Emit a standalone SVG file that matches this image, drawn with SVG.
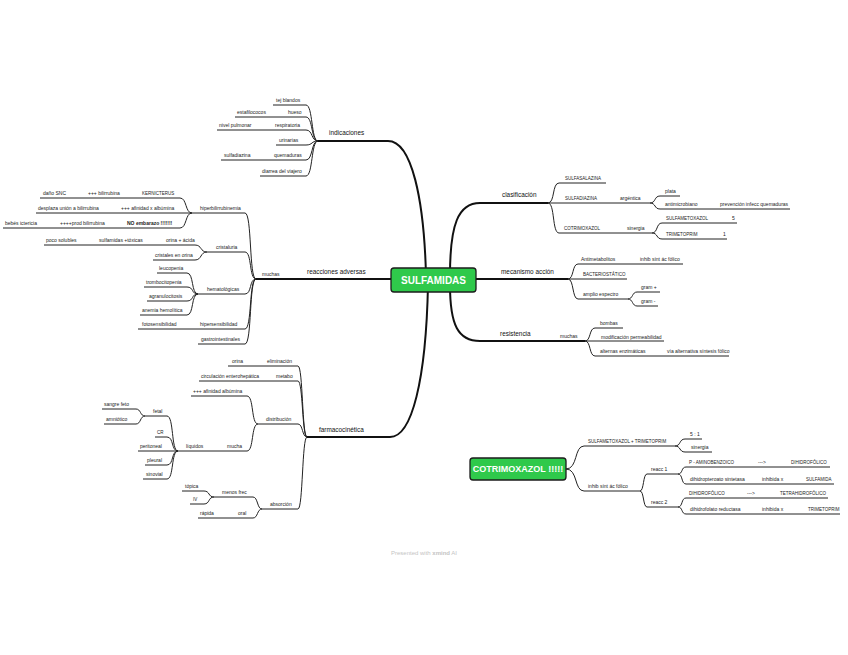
<svg xmlns="http://www.w3.org/2000/svg" width="848" height="655" viewBox="0 0 848 655">
<style>
text{font-family:"Liberation Sans",Arial,sans-serif;font-size:5px;fill:#222}
.u{font-size:4.5px}
.m{font-size:6.4px;fill:#111}
.b{font-weight:bold}
.c{fill:none;stroke:#222;stroke-width:1}
.mc{fill:none;stroke:#111;stroke-width:2}
.root{fill:#2fc94b;stroke:#1c1c1c;stroke-width:1.3}
.rt{font-weight:bold;fill:#fff;text-anchor:middle}
</style>
<rect width="848" height="655" fill="#fff"/>
<g id="connectors">
<!-- main branches -->
<path class="mc" d="M318,141 H388 C412,141 424,200 426,275"/>
<path class="mc" d="M256,279 H430"/>
<path class="mc" d="M307,437 H390 C412,437 426,380 428,285"/>
<path class="mc" d="M450,275 C450,225 458,203 480,203 H548"/>
<path class="mc" d="M430,279 H568"/>
<path class="mc" d="M450,285 C450,325 458,341 480,341 H585"/>
<!-- indicaciones -->
<path class="c" d="M273,105 H306 C313,105 311,141 318,141"/>
<path class="c" d="M235,117 H306 C313,117 311,141 318,141"/>
<path class="c" d="M217,130 H306 C313,130 311,141 318,141"/>
<path class="c" d="M276,145 H306 C313,145 311,141 318,141"/>
<path class="c" d="M221,160 H306 C313,160 311,141 318,141"/>
<path class="c" d="M260,176 H306 C313,176 311,141 318,141"/>
<!-- reacciones: muchas -->
<path class="c" d="M192,213 H245 C252,213 249,279 256,279"/>
<path class="c" d="M207,252 H245 C252,252 249,279 256,279"/>
<path class="c" d="M198,294 H245 C252,294 249,279 256,279"/>
<path class="c" d="M138,329 H245 C252,329 249,279 256,279"/>
<path class="c" d="M198,344 H245 C252,344 249,279 256,279"/>
<path class="c" d="M40,198 H180 C187,198 185,213 192,213"/>
<path class="c" d="M36,213 H192"/>
<path class="c" d="M3,228 H180 C187,228 185,213 192,213"/>
<path class="c" d="M44,245 H195 C202,245 200,252 207,252"/>
<path class="c" d="M153,260 H195 C202,260 200,252 207,252"/>
<path class="c" d="M157,273 H187 C194,273 191,294 198,294"/>
<path class="c" d="M144,287 H187 C194,287 191,294 198,294"/>
<path class="c" d="M147,301 H187 C194,301 191,294 198,294"/>
<path class="c" d="M140,315 H187 C194,315 191,294 198,294"/>
<!-- farmacocinetica -->
<path class="c" d="M228,366 H298 C303,366 302,437 307,437"/>
<path class="c" d="M199,381 H298 C303,381 302,437 307,437"/>
<path class="c" d="M258,424 H298 C303,424 302,437 307,437"/>
<path class="c" d="M262,509 H298 C303,509 302,437 307,437"/>
<path class="c" d="M191,396 H247 C254,396 251,424 258,424"/>
<path class="c" d="M178,451 H247 C254,451 251,424 258,424"/>
<path class="c" d="M145,416 H167 C174,416 171,451 178,451"/>
<path class="c" d="M155,437 H167 C174,437 171,451 178,451"/>
<path class="c" d="M138,451 H178"/>
<path class="c" d="M145,465 H167 C174,465 171,451 178,451"/>
<path class="c" d="M143,479 H167 C174,479 171,451 178,451"/>
<path class="c" d="M102,409 H136 C141,409 140,416 145,416"/>
<path class="c" d="M104,424 H136 C141,424 140,416 145,416"/>
<path class="c" d="M214,497 H253 C258,497 257,509 262,509"/>
<path class="c" d="M198,518 H253 C258,518 257,509 262,509"/>
<path class="c" d="M182,491 H204 C210,491 208,497 214,497"/>
<path class="c" d="M190,504 H204 C210,504 208,497 214,497"/>
<!-- clasificacion -->
<path class="c" d="M548,203 C555,203 552,183 559,183 H606"/>
<path class="c" d="M548,203 H650"/>
<path class="c" d="M548,203 C555,203 552,233 559,233 H652"/>
<path class="c" d="M650,203 C656,203 654,196 660,196 H680"/>
<path class="c" d="M650,203 C656,203 654,209 660,209 H790"/>
<path class="c" d="M652,233 C658,233 656,223 662,223 H737"/>
<path class="c" d="M652,233 C658,233 656,239 662,239 H727"/>
<!-- mecanismo -->
<path class="c" d="M568,279 C574,279 572,264 578,264 H683"/>
<path class="c" d="M568,279 H627"/>
<path class="c" d="M568,279 C574,279 572,299 578,299 H628"/>
<path class="c" d="M628,299 C633,299 632,292 637,292 H660"/>
<path class="c" d="M628,299 C633,299 632,306 637,306 H658"/>
<!-- resistencia -->
<path class="c" d="M585,341 C591,341 589,328 595,328 H623"/>
<path class="c" d="M585,341 H664"/>
<path class="c" d="M585,341 C591,341 589,356 595,356 H729"/>
<!-- cotrimoxazol -->
<path class="c" d="M566,469 C578,469 574,446 584,446 H675"/>
<path class="c" d="M566,469 C578,469 574,491 584,491 H640"/>
<path class="c" d="M675,446 C681,446 679,439 685,439 H702"/>
<path class="c" d="M675,446 C681,446 679,452 685,452 H712"/>
<path class="c" d="M640,491 C644,491 643,474 647,474 H678"/>
<path class="c" d="M640,491 C644,491 643,507 647,507 H678"/>
<path class="c" d="M678,474 C683,474 681,467 686,467 H830"/>
<path class="c" d="M678,474 C683,474 681,484 686,484 H834"/>
<path class="c" d="M678,507 C683,507 681,498 686,498 H828"/>
<path class="c" d="M678,507 C683,507 681,514 686,514 H840"/>
</g>

<g id="sulfamidas"><rect class="root" x="391" y="268" width="85" height="24" rx="3"/><text class="rt" x="433.5" y="283.5" style="font-size:10px">SULFAMIDAS</text></g>

<g id="indicaciones"><text class="m" x="329" y="135">indicaciones</text></g>
<g id="tej-blandos"><text x="276" y="101.5">tej blandos</text></g>
<g id="hueso"><text x="288" y="113.5">hueso</text></g>
<g id="estafilococos"><text x="237" y="113.5">estafilococos</text></g>
<g id="respiratoria"><text x="275" y="126.5">respiratoria</text></g>
<g id="nivel-pulmonar"><text x="219" y="126.5">nivel pulmonar</text></g>
<g id="urinarias"><text x="279" y="141.5">urinarias</text></g>
<g id="quemaduras"><text x="274" y="156.5">quemaduras</text></g>
<g id="sulfadiazina"><text x="224" y="156.5">sulfadiazina</text></g>
<g id="diarrea"><text x="262" y="172.5">diarrea del viajero</text></g>

<g id="reacciones"><text class="m" x="307" y="273.5">reacciones adversas</text></g>
<g id="muchas-ra"><text x="262" y="275.5">muchas</text></g>
<g id="hiperbilirrubinemia"><text x="200" y="209.5">hiperbilirrubinemia</text></g>
<g id="kernicterus"><text class="u" x="142" y="194.5">KERNICTERUS</text></g>
<g id="mas-bilirrubina"><text x="88" y="194.5">+++ bilirrubina</text></g>
<g id="dano-snc"><text x="43" y="194.5">daño SNC</text></g>
<g id="afinidad-x"><text x="121" y="209.5">+++ afinidad x albúmina</text></g>
<g id="desplaza"><text x="38" y="209.5">desplaza unión a bilirrubina</text></g>
<g id="no-embarazo"><text class="b" x="127" y="224.5">NO embarazo !!!!!!!</text></g>
<g id="prod-bilirrubina"><text x="60" y="224.5">++++prod bilirrubina</text></g>
<g id="bebes"><text x="5" y="224.5">bebés ictericia</text></g>
<g id="cristaluria"><text x="216" y="248.5">cristaluria</text></g>
<g id="orina-acida"><text x="166" y="241.5">orina + ácida</text></g>
<g id="sulfamidas-toxicas"><text x="99" y="241.5">sulfamidas +tóxicas</text></g>
<g id="poco-solubles"><text x="46" y="241.5">poco solubles</text></g>
<g id="cristales"><text x="155" y="256.5">cristales en orina</text></g>
<g id="hematologicas"><text x="207" y="290.5">hematológicas</text></g>
<g id="leucopenia"><text x="159" y="269.5">leucopenia</text></g>
<g id="trombocitopenia"><text x="146" y="283.5">trombocitopenia</text></g>
<g id="agranulocitosis"><text x="149" y="297.5">agranulocitosis</text></g>
<g id="anemia"><text x="142" y="311.5">anemia hemolítica</text></g>
<g id="hipersensibilidad"><text x="200" y="325.5">hipersensibilidad</text></g>
<g id="fotosensibilidad"><text x="142" y="325.5">fotosensibilidad</text></g>
<g id="gastrointestinales"><text x="201" y="340.5">gastrointestinales</text></g>

<g id="farmacocinetica"><text class="m" x="319" y="431.5">farmacocinética</text></g>
<g id="eliminacion"><text x="267" y="362.5">eliminación</text></g>
<g id="orina"><text x="232" y="362.5">orina</text></g>
<g id="metabo"><text x="276" y="377.5">metabo</text></g>
<g id="circulacion"><text x="201" y="377.5">circulación enterohepática</text></g>
<g id="distribucion"><text x="266" y="420.5">distribución</text></g>
<g id="afinidad"><text x="193" y="392.5">+++ afinidad albúmina</text></g>
<g id="mucha"><text x="227" y="447.5">mucha</text></g>
<g id="liquidos"><text x="186" y="447.5">líquidos</text></g>
<g id="fetal"><text x="153" y="412.5">fetal</text></g>
<g id="sangre-feto"><text x="104" y="405.5">sangre feto</text></g>
<g id="amniotico"><text x="106" y="420.5">amniótico</text></g>
<g id="cr"><text class="u" x="157" y="433.5">CR</text></g>
<g id="peritoneal"><text x="140" y="447.5">peritoneal</text></g>
<g id="pleural"><text x="147" y="461.5">pleural</text></g>
<g id="sinovial"><text x="146" y="475.5">sinovial</text></g>
<g id="absorcion"><text x="270" y="505.5">absorción</text></g>
<g id="menos-frec"><text x="222" y="493.5">menos frec</text></g>
<g id="topica"><text x="185" y="487.5">tópica</text></g>
<g id="iv"><text class="u" x="193" y="500.5">IV</text></g>
<g id="oral"><text x="238" y="514.5">oral</text></g>
<g id="rapida"><text x="200" y="514.5">rápida</text></g>

<g id="clasificacion"><text class="m" x="502" y="197">clasificación</text></g>
<g id="sulfasalazina"><text class="u" x="565" y="179.5">SULFASALAZINA</text></g>
<g id="sulfadiazina-r"><text class="u" x="565" y="199.5">SULFADIAZINA</text></g>
<g id="argentica"><text x="620" y="199.5">argéntica</text></g>
<g id="plata"><text x="665" y="192.5">plata</text></g>
<g id="antimicrobiano"><text x="665" y="205.5">antimicrobiano</text></g>
<g id="prevencion"><text x="720" y="205.5">prevención infecc quemaduras</text></g>
<g id="cotrimoxazol-r"><text class="u" x="564" y="229.5">COTRIMOXAZOL</text></g>
<g id="sinergia-r"><text x="627" y="229.5">sinergia</text></g>
<g id="smx"><text class="u" x="666" y="219.5">SULFAMETOXAZOL</text></g>
<g id="cinco"><text x="732" y="219.5">5</text></g>
<g id="tmp"><text class="u" x="666" y="235.5">TRIMETOPRIM</text></g>
<g id="uno"><text x="723" y="235.5">1</text></g>

<g id="mecanismo"><text class="m" x="501" y="273.5">mecanismo acción</text></g>
<g id="antimetabolitos"><text x="581" y="260.5">Antimetabolitos</text></g>
<g id="inhib-m"><text x="640" y="260.5">inhib sínt ác fólico</text></g>
<g id="bacteriostatico"><text class="u" x="583" y="275.5">BACTERIOSTÁTICO</text></g>
<g id="amplio"><text x="583" y="295.5">amplio espectro</text></g>
<g id="gram-pos"><text x="641" y="288.5">gram +</text></g>
<g id="gram-neg"><text x="641" y="302.5">gram -</text></g>

<g id="resistencia"><text class="m" x="500" y="335.5">resistencia</text></g>
<g id="muchas-r"><text x="560" y="337.5">muchas</text></g>
<g id="bombas"><text x="600" y="324.5">bombas</text></g>
<g id="modificacion"><text x="601" y="338.5">modificación permeabilidad</text></g>
<g id="alternas"><text x="600" y="352.5">alternas enzimáticas</text></g>
<g id="via-alternativa"><text x="667" y="352.5">vía alternativa síntesis fólico</text></g>

<g id="cotrimoxazol"><rect class="root" x="470" y="458" width="96" height="22" rx="3"/><text class="rt" x="518" y="472.2" style="font-size:9px">COTRIMOXAZOL !!!!!</text></g>
<g id="smx-tmp"><text class="u" x="588" y="442.5">SULFAMETOXAZOL + TRIMETOPRIM</text></g>
<g id="cinco-uno"><text x="690" y="435.5">5 : 1</text></g>
<g id="sinergia"><text x="691" y="448.5">sinergia</text></g>
<g id="inhib"><text x="588" y="487.5">inhib sínt ác fólico</text></g>
<g id="reacc1"><text x="651" y="470.5">reacc 1</text></g>
<g id="reacc2"><text x="651" y="503.5">reacc 2</text></g>
<g id="paba"><text class="u" x="689" y="463.5">P - AMINOBENZOICO</text></g>
<g id="arrow1"><text x="758" y="463.5">---&gt;</text></g>
<g id="dhf1"><text class="u" x="791" y="463.5">DIHIDROFÓLICO</text></g>
<g id="dhps"><text x="690" y="480.5">dihidropteroato sintetasa</text></g>
<g id="inhibida1"><text x="762" y="480.5">inhibida x</text></g>
<g id="sulfamida"><text class="u" x="806" y="480.5">SULFAMIDA</text></g>
<g id="dhf2"><text class="u" x="689" y="494.5">DIHIDROFÓLICO</text></g>
<g id="arrow2"><text x="747" y="494.5">---&gt;</text></g>
<g id="thf"><text class="u" x="780" y="494.5">TETRAHIDROFÓLICO</text></g>
<g id="dhfr"><text x="690" y="510.5">dihidrofolato reductasa</text></g>
<g id="inhibida2"><text x="762" y="510.5">inhibida x</text></g>
<g id="tmp2"><text class="u" x="808" y="510.5">TRIMETOPRIM</text></g>

<g id="footer"><text x="424" y="555" style="font-size:6px;fill:#c4c4c4;text-anchor:middle">Presented with <tspan style="font-weight:bold;fill:#c4c4c4">xmind</tspan> AI</text></g>
</svg>
